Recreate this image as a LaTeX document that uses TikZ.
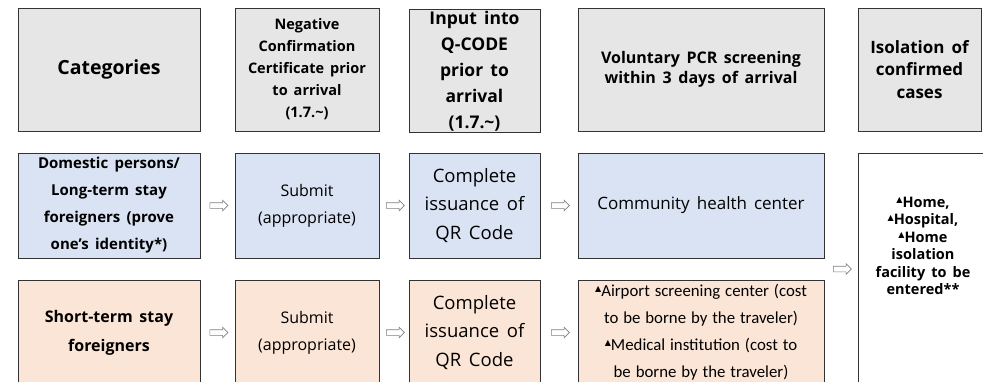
\documentclass[tikz,border=0pt]{standalone}
\usepackage{fontspec}
\setmainfont{Open Sans}[WordSpace=1.6]
\newfontfamily\narrowfont{Carlito}[WordSpace=1.3]
\newfontfamily\symfont{DejaVu Sans}
\usetikzlibrary{shapes.arrows}

\definecolor{headgray}{HTML}{E7E6E6}
\definecolor{domblue}{HTML}{DAE3F3}
\definecolor{shortorange}{HTML}{FBE5D6}
\newcommand\tri{\raisebox{0.6ex}{\symfont\fontsize{8}{8}\selectfont ▲}}

\begin{document}
\begin{tikzpicture}[x=1pt,y=-1pt,
	box/.style={draw=black!80, line width=0.8pt, inner sep=0pt, align=center},
	head/.style={box, fill=headgray, minimum height=123pt, font=\bfseries\fontsize{14.5}{22}\selectfont},
	dom/.style={box, fill=domblue, minimum height=105pt},
	short/.style={box, fill=shortorange, minimum height=105pt},
	harrow/.style={single arrow, draw=black!50, fill=white, line width=0.6pt, inner xsep=0pt, inner ysep=2.5pt, minimum height=18pt, single arrow head extend=2.5pt}]
	
	\clip (0,0) rectangle (983,381);
	
	% Draw header row
	\node[head, minimum width=182pt, font=\bfseries\fontsize{19.5}{22}\selectfont] (hcat) at (109,69.5) {Categories};
	\node[head, minimum width=144pt] (hneg) at (307,69.5) {Negative\\Confirmation\\Certificate prior\\to arrival\\(1.7.\textasciitilde)};
	\node[head, minimum width=131pt, font=\bfseries\fontsize{17.5}{26}\selectfont] (hqc) at (474.5,71) {Input into\\Q-CODE\\prior to\\arrival\\(1.7.\textasciitilde)};
	\node[head, minimum width=246pt, font=\bfseries\fontsize{16}{20}\selectfont] (hpcr) at (701,69.5) {Voluntary PCR screening\\within 3 days of arrival};
	\node[head, minimum width=123pt, font=\bfseries\fontsize{17}{22.5}\selectfont] (hiso) at (919.5,69.5) {Isolation of\\confirmed\\cases};
	
	% Draw domestic row
	\node[dom, minimum width=182pt, font=\bfseries\fontsize{15}{27}\selectfont] (dcat) at (109,205.5) {Domestic persons/\\Long-term stay\\foreigners (prove\\one’s identity*)};
	\node[dom, minimum width=144pt, font=\fontsize{16}{27}\selectfont] (dneg) at (307,205.5) {Submit\\(appropriate)};
	\node[dom, minimum width=131pt, font=\fontsize{18.5}{28.5}\selectfont] (dqc) at (474.5,205.5) {Complete\\issuance of\\QR Code};
	\node[dom, minimum width=246pt, font=\fontsize{17}{20}\selectfont] (dpcr) at (701,205.5) {Community health center};
	
	% Draw short-term row
	\node[short, minimum width=182pt, font=\bfseries\fontsize{16}{29}\selectfont] (scat) at (109,332.5) {Short-term stay\\foreigners};
	\node[short, minimum width=144pt, font=\fontsize{16}{27}\selectfont] (sneg) at (307,332.5) {Submit\\(appropriate)};
	\node[short, minimum width=131pt, font=\fontsize{18.5}{28.5}\selectfont] (sqc) at (474.5,332.5) {Complete\\issuance of\\QR Code};
	\node[short, minimum width=246pt, font=\narrowfont\fontsize{16.8}{27}\selectfont] (spcr) at (701,332.5) {\tri Airport screening center (cost\\to be borne by the traveler)\\\tri Medical institution (cost to\\be borne by the traveler)};
	
	% Draw isolation box, text sits above its middle
	\node[box, fill=white, minimum width=130pt, minimum height=232pt] (iso) at (923,269) {};
	\node[align=center, inner sep=0pt, font=\bfseries\fontsize{14.5}{17.5}\selectfont] (isotext) at ([yshift=23pt]iso.center) {\tri Home,\\\tri Hospital,\\\tri Home\\isolation\\facility to be\\entered**};
	
	% Draw arrows between the steps
	\path (dcat) -- node[harrow] {} (dneg);
	\path (dneg) -- node[harrow] {} (dqc);
	\path (dqc) -- node[harrow] {} (dpcr);
	\path (scat) -- node[harrow] {} (sneg);
	\path (sneg) -- node[harrow] {} (sqc);
	\path (sqc) -- node[harrow] {} (spcr);
	\path (dpcr.east |- iso.west) -- node[harrow] {} (iso.west);
	
\end{tikzpicture}
\end{document}
